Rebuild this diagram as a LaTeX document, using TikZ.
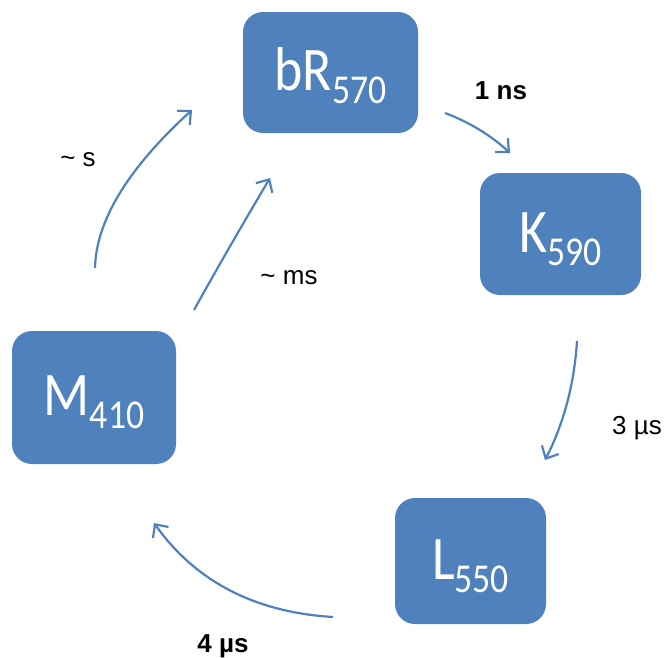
\documentclass[tikz,border=0pt]{standalone}
\usepackage{fontspec}
\usepackage{graphicx}
\setmainfont{Liberation Sans}
\newfontfamily\boxfont{Carlito}
\usetikzlibrary{arrows.meta}
\definecolor{stateblue}{RGB}{79,129,189}

% state label: big letters with a lowered, smaller number
\newcommand{\statelabel}[2]{\scalebox{0.87}[1]{#1\raisebox{-13pt}{\fontsize{41}{41}\selectfont #2}}}

\tikzset{
  statebox/.style={rectangle, rounded corners=20pt, fill=stateblue, text=white,
    inner sep=0pt, text height=40pt, text depth=4pt,
    font=\boxfont\fontsize{62}{62}\selectfont},
  transition/.style={draw=stateblue, line width=2.2pt,
    -{Straight Barb[length=10pt,width=19pt]}},
  timelabel/.style={anchor=base, inner sep=0pt, text=black,
    font=\fontsize{26}{26}\selectfont},
}

\begin{document}
\begin{tikzpicture}[x=1pt, y=-1pt]
  \useasboundingbox (0,0) rectangle (666,657);

  % photocycle states
  \node[statebox, minimum width=175pt, minimum height=121pt] (bR) at (330.5,72.5) {\statelabel{bR}{570}};
  \node[statebox, minimum width=161pt, minimum height=122pt] (K)  at (560.5,234)  {\statelabel{K}{590}};
  \node[statebox, minimum width=151pt, minimum height=126pt] (L)  at (470.5,561)  {\statelabel{L}{550}};
  \node[statebox, minimum width=164pt, minimum height=133pt] (M)  at (94,397.5)   {\statelabel{M}{410}};

  % arrow end points
  \coordinate (bRK-s) at (445,113);  \coordinate (bRK-e) at (510,153);
  \coordinate (KL-s)  at (577,341);  \coordinate (KL-e)  at (545,460);
  \coordinate (LM-s)  at (333,617);  \coordinate (LM-e)  at (154,523);
  \coordinate (MbR1-s) at (194,310); \coordinate (MbR1-e) at (270,178);
  \coordinate (MbR2-s) at (95,268);  \coordinate (MbR2-e) at (192,110);

  % transitions (gentle arcs)
  \draw[transition] (bRK-s) .. controls (469.7,122.3) and (491.3,135.7) .. (bRK-e);
  \draw[transition] (KL-s) .. controls (574.3,384) and (563.7,423.7) .. (KL-e);
  \draw[transition] (LM-s) .. controls (255.3,612.3) and (195.7,581.7) .. (LM-e);
  \draw[transition] (MbR1-s) .. controls (217.3,268) and (242.7,224) .. (MbR1-e);
  \draw[transition] (MbR2-s) .. controls (96,220.7) and (128.3,168) .. (MbR2-e);

  % time constants
  \node[timelabel, font=\fontsize{26}{26}\selectfont\bfseries] (t1) at (501,99) {1 ns};
  \node[timelabel] (t2) at (637,434) {3 µs};
  \node[timelabel, font=\fontsize{26}{26}\selectfont\bfseries] (t3) at (223,652) {4 µs};
  \node[timelabel] (t4) at (289,284) {\textasciitilde\ ms};
  \node[timelabel] (t5) at (78,166) {\textasciitilde\ s};
\end{tikzpicture}
\end{document}
